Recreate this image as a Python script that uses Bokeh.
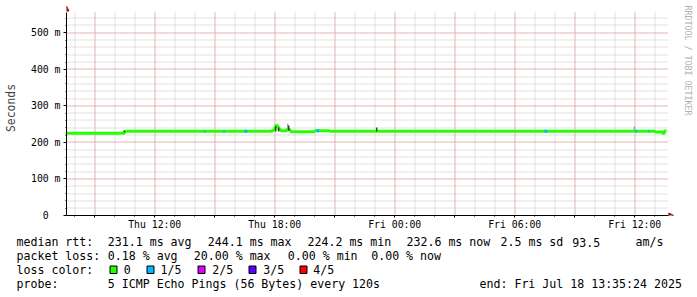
import math
import pandas as pd
from bokeh.plotting import figure
from bokeh.models import Range1d, FixedTicker, Arrow, NormalHead
from bokeh.layouts import column
from bokeh.embed import file_html
from bokeh.resources import INLINE
from bokeh.core.properties import value

# ---------------- data ----------------
graph_start = "2025-07-17 07:35:24"
graph_end = "2025-07-18 13:35:24"

median_time = ["2025-07-17 07:35:24", "2025-07-17 10:29", "2025-07-17 17:54", "2025-07-17 18:00",
               "2025-07-17 18:03", "2025-07-17 18:09", "2025-07-17 18:12", "2025-07-17 18:18",
               "2025-07-17 18:33", "2025-07-17 18:36", "2025-07-17 18:45", "2025-07-17 18:48",
               "2025-07-17 20:00", "2025-07-17 20:45", "2025-07-17 23:06", "2025-07-17 23:09",
               "2025-07-18 13:02", "2025-07-18 13:23", "2025-07-18 13:29", "2025-07-18 13:35:24"]
median_rtt = [225.0, 230.8, 233.0, 241.0,
              246.0, 242.0, 235.5, 232.0,
              231.0, 236.0, 233.5, 229.5,
              232.0, 230.8, 231.5, 230.8,
              228.5, 225.0, 231.0, 231.0]

loss_start = ["2025-07-17 14:29", "2025-07-17 15:26", "2025-07-17 16:29", "2025-07-17 20:05",
              "2025-07-18 07:29", "2025-07-18 12:02", "2025-07-18 12:41"]
loss_end = ["2025-07-17 14:32", "2025-07-17 15:30", "2025-07-17 16:38", "2025-07-17 20:14",
            "2025-07-18 07:38", "2025-07-18 12:08", "2025-07-18 12:44"]
loss_rtt = [230.8, 230.8, 230.8, 232.0, 230.8, 230.8, 230.8]
loss_level = [1, 1, 1, 1, 1, 1, 1]

smoke_time = ["2025-07-17 10:29", "2025-07-17 17:48", "2025-07-17 18:03", "2025-07-17 18:12",
              "2025-07-17 18:39", "2025-07-17 18:42", "2025-07-17 23:06", "2025-07-18 11:59"]
smoke_lo = [228.0, 231.0, 230.0, 230.0, 237.0, 232.0, 230.0, 232.0]
smoke_hi = [232.0, 235.0, 244.0, 241.0, 251.0, 246.0, 241.0, 243.5]
smoke_dark = [1, 0, 1, 1, 0, 1, 1, 0]

loss_labels = ["0", "1/5", "2/5", "3/5", "4/5"]
loss_colors = ["#26ff00", "#00b8ff", "#dd00ff", "#5e00ff", "#ff0000"]

y_ticks = [0, 100, 200, 300, 400, 500]
y_tick_labels = ["0\u00a0\u00a0", "100 m", "200 m", "300 m", "400 m", "500 m"]
x_label_times = ["2025-07-17 12:00", "2025-07-17 18:00", "2025-07-18 00:00",
                 "2025-07-18 06:00", "2025-07-18 12:00"]
x_tick_labels = ["Thu 12:00", "Thu 18:00", "Fri 00:00", "Fri 06:00", "Fri 12:00"]

rtt_avg, rtt_max, rtt_min, rtt_now, rtt_sd, rtt_amps = 231.1, 244.1, 224.2, 232.6, 2.5, 93.5
loss_avg, loss_max, loss_min, loss_now = 0.18, 20.00, 0.00, 0.00
probe_desc = "5 ICMP Echo Pings (56 Bytes) every 120s"
end_text = "Fri Jul 18 13:35:24 2025"
watermark = "RRDTOOL / TOBI OETIKER"
y_label = "Seconds"


def ms(s):
    return float(pd.Timestamp(s).value // 10**6)


MONO = "DejaVu Sans Mono"
t0, t1 = ms(graph_start), ms(graph_end)
y_top = 555.5
GRAPH_W, GRAPH_H, LEFT, BOTTOM = 600.0, 203.0, 66, 18
px_per_ms = GRAPH_W / (t1 - t0)
px_per_val = GRAPH_H / y_top
x_max = t0 + (697 - LEFT) / px_per_ms          # frame spans to the right canvas edge
y_max = (233 - BOTTOM) / px_per_val            # frame spans to the top canvas edge


def dx(px):
    return px / px_per_ms


def dy(px):
    return px / px_per_val


def snap_x(t):
    # move a grid line to the centre of the pixel column it falls in (crisp dots)
    px = (t - t0) * px_per_ms
    return t0 + (math.floor(px) + 0.5) / px_per_ms


def snap_y(v):
    px = v * px_per_val
    return (math.floor(px) + 0.5) / px_per_val


# ---------------- chart ----------------
p = figure(width=697, height=233, x_range=Range1d(t0, x_max), y_range=Range1d(0, y_max),
           output_backend="svg", toolbar_location=None,
           min_border_left=LEFT, min_border_right=0, min_border_top=0, min_border_bottom=BOTTOM,
           background_fill_color="white", border_fill_color="white")
p.outline_line_color = None
p.grid.visible = False
if "frame_align" in p.properties():
    p.frame_align = False

hour_ticks = [ms(t) for t in pd.date_range("2025-07-17 08:00", "2025-07-18 13:00", freq="1h")]
three_ticks = [ms(t) for t in pd.date_range("2025-07-17 09:00", "2025-07-18 12:00", freq="3h")]
y_minor = list(range(20, 560, 20))
y_major = [100, 200, 300, 400, 500]
grid_x1 = t1 + dx(2)

grey, red = "#c2c2c2", "#f09a9a"
gx_minor = [snap_x(t) for t in hour_ticks]
gy_minor = [snap_y(v) for v in y_minor]
gx_major = [snap_x(t) for t in three_ticks]
gy_major = [snap_y(v) for v in y_major]
p.segment(x0=gx_minor, x1=gx_minor, y0=0, y1=y_top, line_color=grey, line_dash="1 1",
          line_width=1, level="underlay")
p.segment(x0=t0, x1=grid_x1, y0=gy_minor, y1=gy_minor, line_color=grey, line_dash="1 1",
          line_width=1, level="underlay")
p.segment(x0=gx_major, x1=gx_major, y0=0, y1=y_top, line_color=red, line_dash="1 1",
          line_width=1, level="underlay")
p.segment(x0=t0, x1=grid_x1, y0=gy_major, y1=gy_major, line_color=red, line_dash="1 1",
          line_width=1, level="underlay")

label_map = {ms(t): lab for t, lab in zip(x_label_times, x_tick_labels)}
p.xaxis.ticker = FixedTicker(ticks=three_ticks, minor_ticks=hour_ticks)
p.xaxis.major_label_overrides = {t: label_map.get(t, "") for t in three_ticks}
p.xaxis.bounds = (t0, grid_x1)
p.yaxis.ticker = FixedTicker(ticks=y_ticks, minor_ticks=y_minor)
p.yaxis.major_label_overrides = {float(t): lab for t, lab in zip(y_ticks, y_tick_labels)}
p.yaxis.bounds = (0, y_top)

for ax in (p.xaxis, p.yaxis):
    ax.axis_line_color = "black"
    ax.major_tick_line_color = "black"
    ax.minor_tick_line_color = "black"
    ax.major_tick_in = 0
    ax.minor_tick_in = 0
    ax.minor_tick_out = 1
    ax.major_label_text_font = MONO
    ax.major_label_text_font_size = "9.8px"
    ax.major_label_text_color = "black"
p.xaxis.major_tick_out = 2
p.xaxis.major_label_standoff = 1
p.yaxis.major_tick_out = 3
p.yaxis.major_label_standoff = 3
p.yaxis.axis_label = y_label
p.yaxis.axis_label_text_font = MONO
p.yaxis.axis_label_text_font_size = "11.4px"
p.yaxis.axis_label_text_font_style = "normal"
p.yaxis.axis_label_standoff = 10

mt = [ms(t) for t in median_time]
p.step(mt, median_rtt, mode="after", line_color=loss_colors[0], line_width=3)

p.segment(x0=[ms(t) for t in loss_start], x1=[ms(t) for t in loss_end],
          y0=loss_rtt, y1=loss_rtt, line_width=3,
          line_color=[loss_colors[l] for l in loss_level])

st = [ms(t) for t in smoke_time]
p.segment(x0=st, x1=st, y0=smoke_lo, y1=smoke_hi, line_width=1.3,
          line_color=["#303030" if d else "#9a9a9a" for d in smoke_dark])

arrow_col = "#a01010"
p.add_layout(Arrow(end=NormalHead(size=5, fill_color=arrow_col, line_color=arrow_col),
                   x_start=t0, y_start=y_top - dy(1), x_end=t0, y_end=y_top + dy(6.5),
                   line_alpha=0))
p.add_layout(Arrow(end=NormalHead(size=5, fill_color=arrow_col, line_color=arrow_col),
                   x_start=t1, y_start=0, x_end=t1 + dx(7.3), y_end=0,
                   line_alpha=0))

p.text(x=[t0 + dx(621.7)], y=[y_max - dy(5)], text=[watermark], angle=-math.pi / 2,
       text_align="left", text_baseline="middle", text_font=value(MONO),
       text_font_size="8.3px", text_color="#b0b0b0")

# ---------------- legend ----------------
lg = figure(width=697, height=64, x_range=Range1d(0, 697), y_range=Range1d(297, 233),
            output_backend="svg", toolbar_location=None, min_border=0,
            min_border_left=0, min_border_right=0, min_border_top=0, min_border_bottom=0,
            x_axis_location=None, y_axis_location=None,
            background_fill_color="white", border_fill_color="white")
lg.outline_line_color = None
lg.grid.visible = False
if "frame_align" in lg.properties():
    lg.frame_align = False

rows_y = [241.5, 255.3, 269.3, 283.3]
line1 = ["median rtt:", f"{rtt_avg:.1f} ms avg", f"{rtt_max:.1f} ms max", f"{rtt_min:.1f} ms min",
         f"{rtt_now:.1f} ms now", f"{rtt_sd:.1f} ms sd", f"{rtt_amps:.1f}", "am/s"]
line1_x = [16, 107.3, 207.3, 307, 406, 500, 571.7, 635]
line2 = ["packet loss:", f"{loss_avg:.2f} % avg", f"{loss_max:.2f} % max",
         f"{loss_min:.2f} % min", f"{loss_now:.2f} % now"]
line2_x = [16, 107.3, 193.3, 287.3, 370.7]
line3 = ["loss color:"] + loss_labels
line3_x = [16, 123.3, 160, 211.7, 262.7, 312.7]
line4 = ["probe:", probe_desc, f"end: {end_text}"]
line4_x = [16, 107.3, 479]

tx, ty, tt = [], [], []
for xs, texts, yy in [(line1_x, line1, rows_y[0]), (line2_x, line2, rows_y[1]),
                      (line3_x, line3, rows_y[2]), (line4_x, line4, rows_y[3])]:
    tx += xs
    tt += texts
    ty += [yy] * len(xs)
lg.text(x=tx, y=ty, text=tt, text_font=value(MONO), text_font_size="11.6px",
        text_baseline="middle", text_align="left", text_color="black")

box_left = [109.5, 146.5, 197.5, 248.5, 299.5]
lg.quad(left=box_left, right=[b + 7 for b in box_left],
        top=[265.5] * 5, bottom=[273.0] * 5,
        fill_color=loss_colors, line_color="black", line_width=1)

layout = column(p, lg, spacing=0)
open("out.html", "w").write(file_html(layout, INLINE))
